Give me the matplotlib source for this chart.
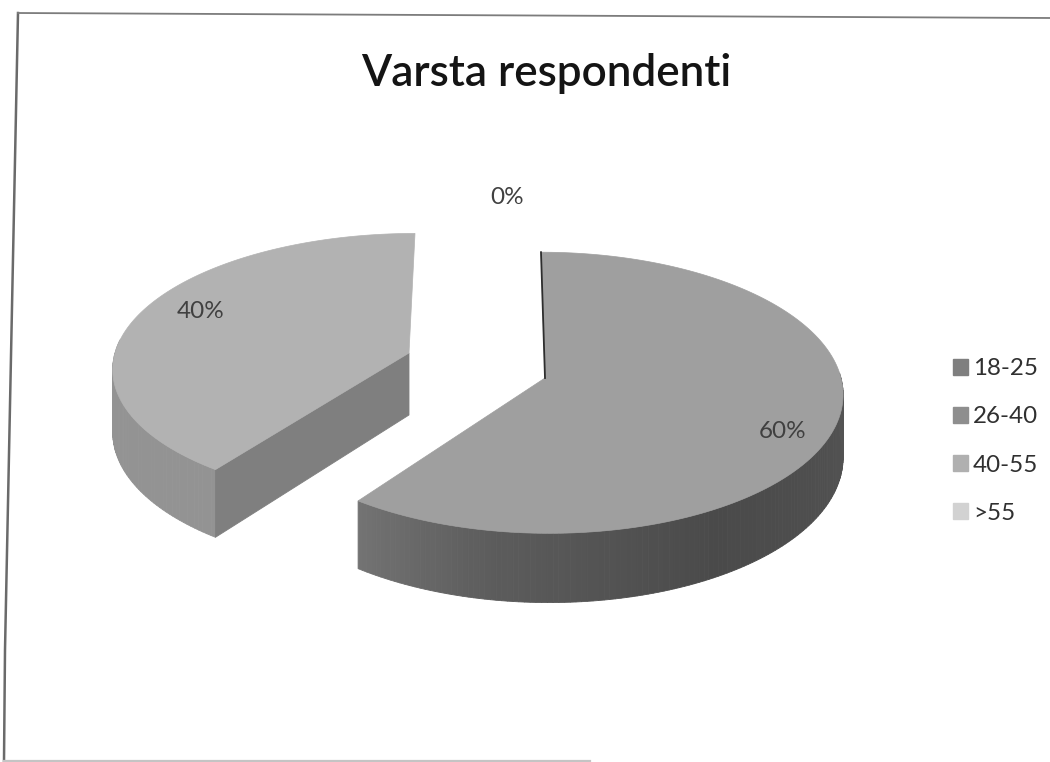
import matplotlib
matplotlib.use("Agg")
import matplotlib.pyplot as plt
import numpy as np
from matplotlib.patches import Patch, Polygon

plt.rcParams["font.family"] = ["Lato", "DejaVu Sans"]

title = "Varsta respondenti"
categories = ["18-25", "26-40", "40-55", ">55"]
values = [0, 60, 40, 0]
legend_colors = ["#7f7f7f", "#8e8e8e", "#b0b0b0", "#d2d2d2"]
top_colors = ["#7f7f7f", "#9f9f9f", "#b2b2b2", "#d2d2d2"]

# scene settings per visible slice, in pixels
scene = {
    1: dict(cx=545, cy=378, rx=296, ry=139, k=0.105, shear=-4),
    2: dict(cx=409, cy=353, rx=294, ry=132, k=0.104, shear=6),
}
depth = 62
label_pos = {1: (783, 432), 2: (201, 311), 3: (507, 197)}


def project(pts, s, drop=0.0):
    u, v = pts[:, 0], pts[:, 1]
    w = 1 + s["k"] * v
    x = s["cx"] + s["rx"] * u / w + s["shear"] * v
    y = s["cy"] - s["ry"] * v / w + drop / w
    return np.column_stack([x, y])


def rim(angles):
    a = np.radians(angles)
    return np.column_stack([np.cos(a), np.sin(a)])


def add_wall(ax, pts, s, colors):
    # one quad per step so the wall can change shade along the rim
    top = project(pts, s)
    low = project(pts, s, depth)
    for i in range(len(pts) - 1):
        quad = np.array([top[i], top[i + 1], low[i + 1], low[i]])
        ax.add_patch(Polygon(quad, closed=True, fc=colors[i], ec=colors[i], lw=0.6))


def add_top(ax, wedge, s, color):
    a = np.linspace(wedge.theta1, wedge.theta2, 200)
    pts = project(np.vstack([[[0, 0]], rim(a)]), s)
    ax.add_patch(Polygon(pts, closed=True, fc=color, ec=color, lw=0.5))


fig = plt.figure(figsize=(10.5, 7.62), dpi=100)
ax = fig.add_axes([0, 0, 1, 1])
wedges, _ = ax.pie(values, colors=top_colors, startangle=90, counterclock=False)
for w in wedges:
    w.remove()
ax.set_aspect("auto")
ax.set_xlim(0, 1050)
ax.set_ylim(762, 0)
ax.axis("off")

# scan edges of the sheet
ax.plot([18, 5, 4], [13, 650, 761], color="#6a6a6a", lw=1.8)
ax.plot([18, 1050], [13, 18], color="#7c7c7c", lw=1.3)
ax.plot([4, 590], [761, 761], color="#c4c4c4", lw=1.6)

# 40-55 slice: outer wall, then the cut face towards the centre
w = wedges[2]
s = scene[2]
tip_angle = w.theta2
ang = np.linspace(tip_angle - 60, tip_angle, 60)
add_wall(ax, rim(ang), s, ["#939393"] * 59)
add_wall(ax, np.vstack([rim([tip_angle]), [[0, 0]]]), s, ["#7f7f7f"])
add_top(ax, w, s, top_colors[2])

# 26-40 slice: dark wall getting lighter towards the left tip
w = wedges[1]
s = scene[1]
ang = np.linspace(w.theta1, 2, 130)
shade = np.interp(ang, [w.theta1, -100, -60, 2], [0.45, 0.36, 0.29, 0.33])
add_wall(ax, rim(ang), s, [str(g) for g in shade[:-1]])
add_top(ax, w, s, top_colors[1])
edge = project(np.vstack([rim([w.theta2]), [[0, 0]]]), s)
ax.plot(edge[:, 0], edge[:, 1], color="#2e2e2e", lw=1.3)

ax.text(546, 73, title, ha="center", va="center", fontsize=31.7, fontweight="semibold", color="#141414")

total = sum(values)
for i, (x, y) in label_pos.items():
    ax.text(x, y, f"{values[i] * 100 / total:.0f}%", ha="center", va="center", fontsize=17.5, color="#404040")

handles = [Patch(fc=c, ec=c) for c in legend_colors]
ax.legend(
    handles, categories, loc="center left", bbox_to_anchor=(953, 441), bbox_transform=ax.transData,
    frameon=False, fontsize=17.4, handlelength=0.62, handleheight=0.62, handletextpad=0.2,
    labelspacing=1.12, borderpad=0, borderaxespad=0, labelcolor="#303030",
)

fig.savefig("out.png", dpi=100)
